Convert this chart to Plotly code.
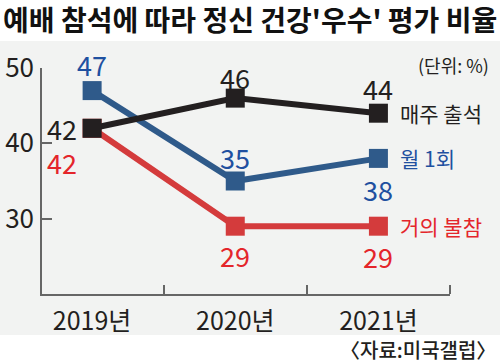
import plotly.graph_objects as go

years = ["2019년", "2020년", "2021년"]
series_names = ["거의 불참", "월 1회", "매주 출석"]
rare = [42, 29, 29]
monthly = [47, 35, 38]
weekly = [42, 46, 44]
series_values = [rare, monthly, weekly]
line_colors = ["#d43b3c", "#2f5a8a", "#231f20"]
text_colors = ["#e4252b", "#1f50a0", "#231f20"]
# label offsets (px) per series per point
label_shifts = [
    [(-30, -34), (0, -29), (0, -30)],
    [(0, 26), (0, 24), (0, -31)],
    [(-30, 0), (0, 21), (0, 25)],
]

NUM = "Noto Sans CJK KR, sans-serif"
KR = "Noto Sans CJK KR, sans-serif"

xs = list(range(len(years)))
fig = go.Figure()
for name, vals, col in zip(series_names, series_values, line_colors):
    fig.add_trace(go.Scatter(
        x=xs, y=vals, mode="lines+markers", name=name,
        line=dict(color=col, width=6),
        marker=dict(symbol="square", size=19, color=col),
        cliponaxis=False, hoverinfo="skip", showlegend=False,
    ))

annotations = []
for vals, tcol, shifts, name in zip(series_values, text_colors, label_shifts, series_names):
    for i, v in enumerate(vals):
        annotations.append(dict(
            x=xs[i], y=v, xref="x", yref="y", text=str(v), showarrow=False,
            xshift=shifts[i][0], yshift=shifts[i][1],
            font=dict(family=NUM, size=27, color=tcol),
        ))
    annotations.append(dict(
        x=xs[-1], y=vals[-1], xref="x", yref="y", text=name, showarrow=False,
        xanchor="left", xshift=20, yshift=0,
        font=dict(family=KR, size=21, color=tcol),
    ))

paper_ann = [
    dict(x=250, y=19, text="<b>예배 참석에 따라 정신 건강'우수' 평가 비율</b>", xanchor="center",
         font=dict(family=KR, size=28, color="#111")),
    dict(x=491, y=65, text="(단위: %)", xanchor="right",
         font=dict(family=KR, size=18, color="#231f20")),
    dict(x=498, y=349, text="〈자료:미국갤럽〉", xanchor="right",
         font=dict(family=KR, size=20, color="#231f20", weight=500)),
]
W, H = 500, 364
for a in paper_ann:
    a.update(xref="paper", yref="paper", yanchor="middle", showarrow=False,
             x=a["x"] / W, y=1 - a["y"] / H)
    annotations.append(a)

fig.update_layout(
    width=W, height=H, margin=dict(l=0, r=0, t=0, b=0, autoexpand=False),
    paper_bgcolor="white", plot_bgcolor="rgba(0,0,0,0)",
    annotations=annotations,
    shapes=[dict(type="rect", xref="paper", yref="paper", x0=0, x1=1,
                 y0=1 - 335 / H, y1=1 - 41 / H, fillcolor="#f2f3f2",
                 line=dict(width=0), layer="below")],
    xaxis=dict(domain=[42 / W, 450 / W], range=[-0.35, 2.5], automargin=False,
               tickvals=xs, ticktext=years, ticks="", showgrid=False, zeroline=False,
               showline=True, linecolor="#666", linewidth=1.5,
               tickfont=dict(family=NUM, size=25, color="#231f20"),
               ticklabelstandoff=4,
               minor=dict(tickmode="array", tickvals=[0.5, 1.5, 2.5], ticks="inside",
                          ticklen=9, tickcolor="#666", tickwidth=1.5, showgrid=False)),
    yaxis=dict(domain=[1 - 294 / H, 1 - 68 / H], range=[20, 50], automargin=False,
               tickvals=[30, 40, 50], ticks="inside", ticklen=10, tickcolor="#666",
               tickwidth=1.5, showgrid=False, zeroline=False,
               showline=True, linecolor="#666", linewidth=1.5,
               tickfont=dict(family=NUM, size=26, color="#231f20"),
               ticklabelstandoff=1),
)
fig.write_html("out.html", config={"displayModeBar": False},
               post_script="document.body.style.margin='0';document.body.style.overflow='hidden';")
